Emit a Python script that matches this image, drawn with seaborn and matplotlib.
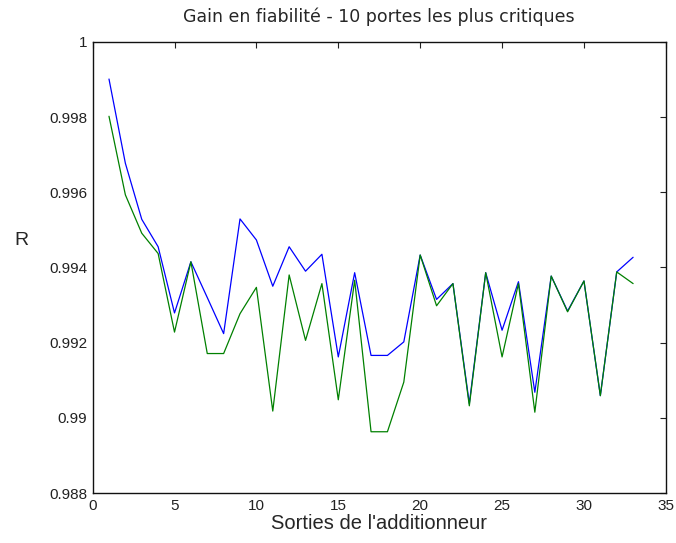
import numpy as np
import pandas as pd
import matplotlib
matplotlib.use("Agg")
import matplotlib.pyplot as plt
import seaborn as sns

# Output index of the adder
sorties = list(range(1, 34))

# Reliability after hardening (upper curve)
r_bleu = [0.99901, 0.99677, 0.99528, 0.99455, 0.99279, 0.99415, 0.99320, 0.99224,
          0.99529, 0.99473, 0.99350, 0.99455, 0.99390, 0.99435, 0.99162, 0.99386,
          0.99166, 0.99166, 0.99202, 0.99433, 0.99315, 0.99357, 0.99038, 0.99386,
          0.99233, 0.99362, 0.99068, 0.99377, 0.99284, 0.99364, 0.99059, 0.99388,
          0.99427]

# Reliability after hardening (lower curve)
r_vert = [0.99802, 0.99593, 0.99491, 0.99437, 0.99228, 0.99415, 0.99171, 0.99171,
          0.99277, 0.99347, 0.99018, 0.99380, 0.99206, 0.99357, 0.99048, 0.99366,
          0.98963, 0.98963, 0.99095, 0.99433, 0.99298, 0.99357, 0.99032, 0.99386,
          0.99162, 0.99357, 0.99015, 0.99377, 0.99282, 0.99364, 0.99059, 0.99388,
          0.99357]

x_ticks = [0, 5, 10, 15, 20, 25, 30, 35]
y_ticks = [0.988, 0.99, 0.992, 0.994, 0.996, 0.998, 1.0]
y_tick_labels = ["0.988", "0.99", "0.992", "0.994", "0.996", "0.998", "1"]

df = pd.DataFrame({
    "sortie": sorties * 2,
    "R": r_bleu + r_vert,
    "courbe": ["a"] * len(sorties) + ["b"] * len(sorties),
})

sns.set_style("white")
plt.rcParams["font.family"] = ["Liberation Sans", "DejaVu Sans"]

fig = plt.figure(figsize=(6.76, 5.43), dpi=100)
ax = fig.add_axes([0.137, 0.092, 0.848, 0.831])

sns.lineplot(data=df, x="sortie", y="R", hue="courbe",
             palette={"a": "#0000ff", "b": "#008000"},
             linewidth=0.9, legend=False, ax=ax)

ax.set_xlim(0, 35)
ax.set_ylim(0.988, 1.0)
ax.set_xticks(x_ticks)
ax.set_xticklabels([str(t) for t in x_ticks])
ax.set_yticks(y_ticks)
ax.set_yticklabels(y_tick_labels)

ax.tick_params(direction="in", length=4, width=0.8, top=True, right=True,
               labelsize=11, colors="#222222", pad=4)
for s in ax.spines.values():
    s.set_color("#111111")
    s.set_linewidth(1.0)

ax.set_title("Gain en fiabilité - 10 portes les plus critiques",
             fontsize=12.5, family=["DejaVu Sans"], pad=14)
ax.set_xlabel("Sorties de l'additionneur", fontsize=14.5, labelpad=1)
ax.set_ylabel("R", fontsize=14, rotation=0)
ax.yaxis.set_label_coords(-0.125, 0.54)

fig.savefig("out.png", dpi=100, facecolor="white")
